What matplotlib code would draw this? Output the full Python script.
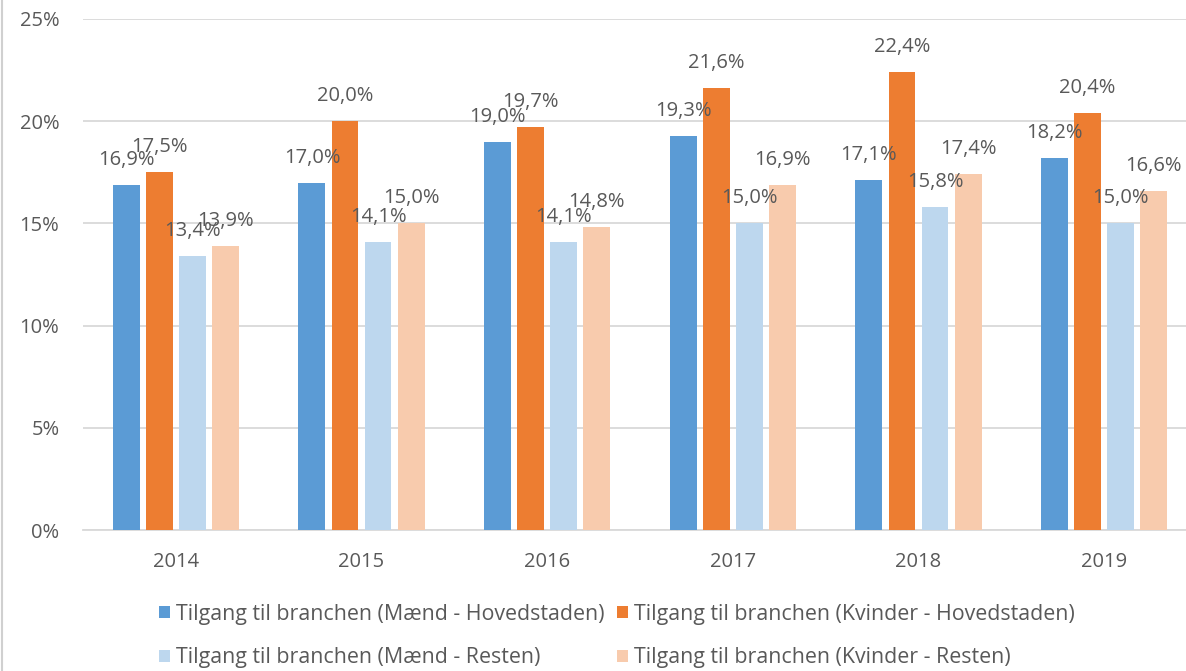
import matplotlib
matplotlib.use("Agg")
import matplotlib.pyplot as plt
import numpy as np
from matplotlib.lines import Line2D

years = ["2014", "2015", "2016", "2017", "2018", "2019"]
series_names = [
    "Tilgang til branchen (Mænd - Hovedstaden)",
    "Tilgang til branchen (Kvinder - Hovedstaden)",
    "Tilgang til branchen (Mænd - Resten)",
    "Tilgang til branchen (Kvinder - Resten)",
]
maend_hoved = [16.9, 17.0, 19.0, 19.3, 17.1, 18.2]
kvinder_hoved = [17.5, 20.0, 19.7, 21.6, 22.4, 20.4]
maend_resten = [13.4, 14.1, 14.1, 15.0, 15.8, 15.0]
kvinder_resten = [13.9, 15.0, 14.8, 16.9, 17.4, 16.6]

colors = ["#5B9BD5", "#ED7D31", "#BDD7EE", "#F8CBAD"]
text_col = "#595959"
grid_col = "#D9D9D9"

plt.rcParams["font.family"] = ["Open Sans", "DejaVu Sans"]

fig = plt.figure(figsize=(11.86, 6.71), dpi=100)
W, H = 1186, 671
ax = fig.add_axes([83 / W, 1 - 530 / H, (1197 - 83) / W, (530 - 19) / H])

x = np.arange(len(years))
width = 0.145
step = 0.178
all_series = [maend_hoved, kvinder_hoved, maend_resten, kvinder_resten]
handles = []
for i, (vals, name, c) in enumerate(zip(all_series, series_names, colors)):
    pos = x + (i - 1.5) * step
    b = ax.bar(pos, vals, width=width, color=c, label=name, zorder=3)
    handles.append(b)
    for px, v in zip(pos, vals):
        ax.annotate(f"{v:.1f}%".replace(".", ","), (px, v),
                    xytext=(0, 18), textcoords="offset points",
                    ha="center", va="center", fontsize=14.5, color=text_col,
                    zorder=4)

ax.set_xlim(-0.5, len(years) - 0.5)
ax.set_ylim(0, 25)
ax.set_yticks([0, 5, 10, 15, 20, 25])
ax.set_yticklabels(["0%", "5%", "10%", "15%", "20%", "25%"])
ax.set_xticks(x)
ax.set_xticklabels(years)
ax.tick_params(axis="both", length=0, labelsize=14.5, colors=text_col)
ax.tick_params(axis="x", pad=16)
ax.tick_params(axis="y", pad=17)
ax.grid(axis="y", color=grid_col, linewidth=1.3, zorder=0)
for s in ["top", "right", "left"]:
    ax.spines[s].set_visible(False)
ax.spines["bottom"].set_color(grid_col)
ax.spines["bottom"].set_linewidth(1.3)

# legend fills column-wise, reorder so rows read like the original
order = [0, 2, 1, 3]
fig.legend([handles[k] for k in order], [series_names[k] for k in order],
           loc="center", bbox_to_anchor=(617 / W, 1 - 636 / H), ncol=2,
           frameon=False, fontsize=15.4, labelcolor=text_col,
           handlelength=0.5, handleheight=0.5, handletextpad=0.3,
           columnspacing=0.6, labelspacing=1.05)

fig.add_artist(Line2D([2 / W, 2 / W], [0, 1], color="#D0D0D0", linewidth=1.5,
                      transform=fig.transFigure))

fig.savefig("out.png", dpi=100)
